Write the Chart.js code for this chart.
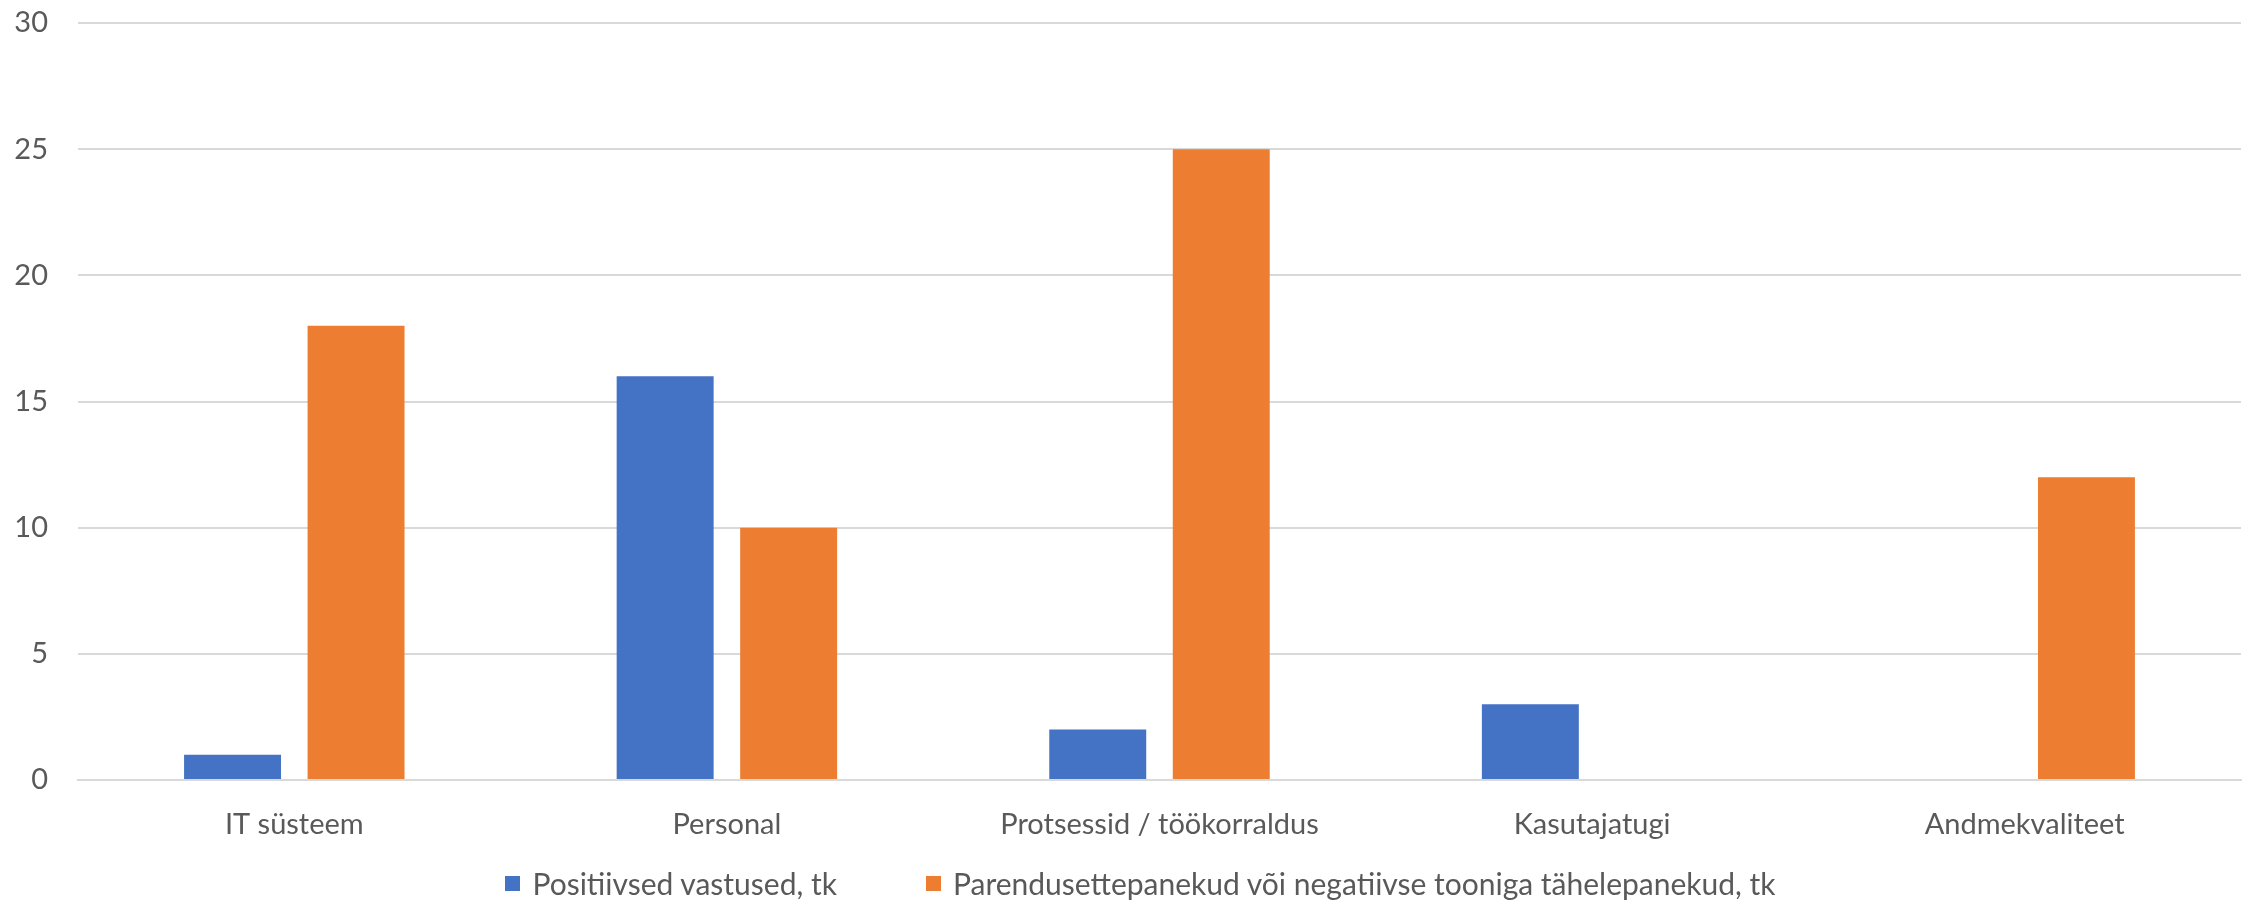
<!DOCTYPE html>
<html>
<head>
<meta charset="utf-8">
<script src="https://cdn.jsdelivr.net/npm/chart.js@4"></script>
<style>
  html, body { margin: 0; padding: 0; background: #fff; overflow: hidden; }
  #wrap { position: relative; width: 2255px; height: 900px; overflow: hidden; }
  #legend {
    position: absolute; left: 13px; top: 866px; width: 2255px; height: 34px;
    display: flex; justify-content: center; align-items: center;
    font-family: Lato, sans-serif; font-size: 30px; color: #595959;
  }
  .item { display: flex; align-items: center; }
  .item + .item { margin-left: 89px; }
  .box { width: 15px; height: 15px; margin-right: 12px; }
</style>
</head>
<body>
<div id="wrap">
  <canvas id="chart"></canvas>
  <div id="legend"></div>
</div>
<script>
// andmed
const categories = ['IT süsteem', 'Personal', 'Protsessid / töökorraldus', 'Kasutajatugi', 'Andmekvaliteet'];
const positiveLabel = 'Positiivsed vastused, tk';
const positiveValues = [1, 16, 2, 3, 0];
const negativeLabel = 'Parendusettepanekud või negatiivse tooniga tähelepanekud, tk';
const negativeValues = [18, 10, 25, 0, 12];
const yTicks = [0, 5, 10, 15, 20, 25, 30];

const textColor = '#595959';
const gridColor = '#D9D9D9';

const chart = new Chart(document.getElementById('chart'), {
    type: 'bar',
    data: {
        labels: categories,
        datasets: [{
            label: positiveLabel,
            data: positiveValues,
            backgroundColor: '#4472C4',
            categoryPercentage: 0.571,
            barPercentage: 0.785
        }, {
            label: negativeLabel,
            data: negativeValues,
            backgroundColor: '#ED7D31',
            categoryPercentage: 0.571,
            barPercentage: 0.785
        }]
    },
    options: {
        responsive: true,
        maintainAspectRatio: false,
        animation: false,
        layout: { padding: { left: 15, right: 14, top: 23, bottom: 58 } },
        plugins: {
            legend: { display: false },
            tooltip: { enabled: false }
        },
        scales: {
            x: {
                grid: { display: false, drawTicks: false },
                border: { display: true, color: gridColor, width: 2 },
                afterFit: axis => { axis.height = 62; },
                ticks: {
                    color: textColor,
                    padding: 27,
                    font: { family: 'Lato', size: 29 }
                }
            },
            y: {
                min: yTicks[0],
                max: yTicks[yTicks.length - 1],
                afterBuildTicks: axis => { axis.ticks = yTicks.map(v => ({ value: v })); },
                afterFit: axis => {
                    axis.width = 63;
                    axis.paddingTop = 0;
                    axis.paddingBottom = 0;
                },
                grid: { color: gridColor, lineWidth: 2, drawTicks: false },
                border: { display: false },
                ticks: {
                    color: textColor,
                    padding: 30,
                    font: { family: 'Lato', size: 29 }
                }
            }
        }
    }
});

// legend
const legendEl = document.getElementById('legend');
chart.data.datasets.forEach(ds => {
    const item = document.createElement('div');
    item.className = 'item';
    const box = document.createElement('span');
    box.className = 'box';
    box.style.background = ds.backgroundColor;
    const txt = document.createElement('span');
    txt.textContent = ds.label;
    item.appendChild(box);
    item.appendChild(txt);
    legendEl.appendChild(item);
});
</script>
</body>
</html>
